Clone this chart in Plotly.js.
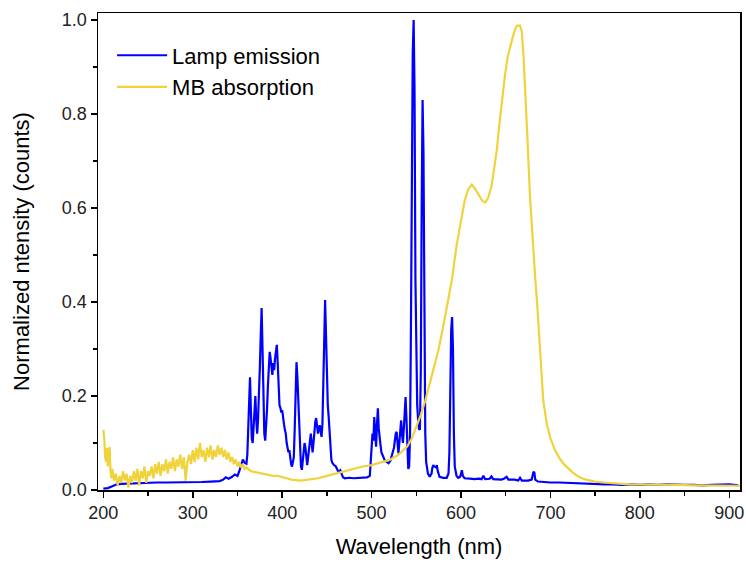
<!DOCTYPE html>
<html>
<head>
<meta charset="utf-8">
<script src="https://cdn.plot.ly/plotly-3.0.1.min.js"></script>
<style>html,body{margin:0;padding:0;background:#fff;}#chart{width:746px;height:562px;}</style>
</head>
<body>
<div id="chart"></div>
<script>
// Lamp emission (wavelength nm, normalized intensity)
const lampWavelength = [200,205,210,215,220,230,240,250,260,270,280,290,300,310,320,330,334,337,340,344,347,350,352,354,356,358,360,
361,362,363,364,365,366,367,368,369,370,371,372,373,374,375,376,377,378,379,380,381,382,383,384,385,386,387,388,389,390,
391,392,393,394,395,396,397,398,399,400,401,402,403,404,405,406,407,408,409,410,411,412,413,414,415,416,417,418,419,420,
421,422,423,424,425,426,427,428,429,430,431,432,433,434,435,436,437,438,439,440,441,442,443,444,445,446,447,448,449,450,
451,452,453,454,455,456,457,458,460,462,463,465,466,468,470,475,480,485,490,495,498,499,500,501,502,503,504,505,506,507,
508,509,510,511,513,515,517,519,521,522,523,525,527,528,529,530,531,532,533,534,535,536,537,538,539,540,541,542,543,544,
545,546,547,548,549,550,551,552,553,554,555,556,557,558,559,560,561,562,563,565,567,568,569,570,572,573,574,576,580,584,
586,587,588,589,590,591,592,593,595,597,599,600,601,602,604,610,615,620,623,625,627,632,634,636,645,648,651,653,660,664,
666,668,675,679,681,682,683,686,690,700,710,720,730,740,750,760,770,780,790,800,810,820,830,840,850,860,870,880,890,900,910];
const lampIntensity = [0.003,0.004,0.008,0.012,0.013,0.014,0.015,0.016,0.016,0.016,0.016,0.017,0.017,0.017,0.018,0.019,0.022,0.027,0.024,0.028,0.033,0.030,0.040,0.055,0.065,0.058,0.056,
0.075,0.14,0.21,0.24,0.17,0.11,0.10,0.14,0.18,0.20,0.15,0.12,0.15,0.19,0.26,0.33,0.387,0.30,0.18,0.12,0.105,0.13,0.17,0.22,0.26,0.294,0.28,0.26,0.245,0.27,
0.255,0.28,0.30,0.309,0.27,0.21,0.18,0.175,0.165,0.17,0.15,0.14,0.128,0.12,0.10,0.085,0.08,0.085,0.065,0.055,0.05,0.06,0.07,0.13,0.22,0.272,0.24,0.19,0.12,0.08,
0.05,0.043,0.06,0.085,0.10,0.09,0.06,0.053,0.07,0.09,0.11,0.12,0.10,0.08,0.10,0.13,0.145,0.153,0.135,0.12,0.13,0.138,0.125,0.113,0.14,0.24,0.36,0.404,0.33,0.22,
0.18,0.155,0.12,0.08,0.064,0.058,0.055,0.053,0.05,0.04,0.038,0.042,0.035,0.027,0.025,0.026,0.025,0.026,0.026,0.027,0.03,0.06,0.11,0.12,0.105,0.155,0.12,0.092,0.14,0.174,
0.13,0.10,0.095,0.08,0.07,0.062,0.06,0.057,0.062,0.07,0.08,0.09,0.12,0.124,0.10,0.078,0.10,0.13,0.148,0.12,0.10,0.13,0.17,0.198,0.15,0.064,0.045,0.05,0.12,0.35,
0.70,0.93,1.0,0.85,0.45,0.25,0.18,0.15,0.13,0.128,0.25,0.60,0.83,0.72,0.35,0.12,0.06,0.045,0.035,0.028,0.035,0.048,0.053,0.05,0.048,0.053,0.04,0.028,0.026,0.026,
0.035,0.08,0.22,0.34,0.368,0.30,0.12,0.05,0.03,0.026,0.028,0.036,0.042,0.03,0.025,0.024,0.023,0.024,0.023,0.03,0.023,0.024,0.029,0.023,0.022,0.024,0.028,0.022,0.022,0.02,
0.026,0.02,0.02,0.022,0.039,0.037,0.022,0.018,0.017,0.016,0.016,0.015,0.015,0.014,0.013,0.012,0.012,0.011,0.012,0.011,0.012,0.011,0.012,0.011,0.011,0.011,0.010,0.011,0.011,0.012,0.010];

// MB absorption (wavelength nm, normalized absorbance)
const mbWavelength = [200,201,202,203,204,205,206,207,208,209,210,212,214,216,218,220,222,224,226,228,230,232,234,236,238,240,242,244,246,248,
250,252,254,256,258,260,262,264,266,268,270,272,274,276,278,280,282,284,286,288,290,292,294,296,298,300,302,304,306,308,
310,312,314,316,318,320,322,324,326,328,330,332,334,336,338,340,342,344,346,348,350,352,354,356,358,360,365,370,375,380,
385,390,395,400,405,410,415,420,425,430,440,450,460,470,480,490,500,510,520,530,540,545,550,555,560,565,570,575,580,585,
590,595,600,604,608,612,616,620,624,627,630,634,637,640,643,646,649,652,655,658,661,663,666,668,670,672,674,677,680,683,
685,688,692,696,700,705,710,715,720,725,730,735,740,745,750,760,770,780,790,800,820,840,860,880,900,912];
const mbAbsorption = [0.128,0.11,0.07,0.06,0.09,0.05,0.075,0.092,0.04,0.025,0.045,0.02,0.035,0.01,0.03,0.015,0.04,0.02,0.035,0.005,0.03,0.015,0.04,0.02,0.045,0.01,0.04,0.025,0.05,0.015,
0.04,0.03,0.05,0.025,0.055,0.035,0.06,0.03,0.055,0.04,0.065,0.035,0.06,0.045,0.07,0.04,0.065,0.05,0.075,0.045,0.07,0.02,0.06,0.075,0.055,0.085,0.06,0.09,0.065,0.1,
0.07,0.085,0.06,0.09,0.07,0.095,0.065,0.085,0.07,0.095,0.075,0.09,0.07,0.085,0.065,0.08,0.06,0.07,0.055,0.065,0.05,0.06,0.048,0.055,0.045,0.048,0.04,0.038,0.035,0.033,
0.032,0.03,0.03,0.028,0.025,0.022,0.021,0.02,0.021,0.022,0.025,0.03,0.035,0.04,0.045,0.05,0.053,0.058,0.064,0.075,0.093,0.11,0.135,0.16,0.19,0.225,0.26,0.30,0.347,0.40,
0.45,0.52,0.57,0.615,0.64,0.65,0.64,0.628,0.615,0.612,0.62,0.645,0.68,0.723,0.78,0.835,0.88,0.92,0.945,0.965,0.983,0.988,0.988,0.975,0.92,0.85,0.76,0.63,0.53,0.45,
0.40,0.30,0.19,0.14,0.11,0.085,0.068,0.055,0.045,0.037,0.03,0.025,0.022,0.02,0.018,0.016,0.014,0.013,0.012,0.012,0.011,0.011,0.01,0.01,0.009,0.009];

const xTickVals = [200,300,400,500,600,700,800,900];
const yTickVals = [0.0,0.2,0.4,0.6,0.8,1.0];
const yTickText = ['0.0','0.2','0.4','0.6','0.8','1.0'];

const FONT = 'Liberation Sans, Arial, sans-serif';

const traces = [
  {x: lampWavelength, y: lampIntensity, type: 'scatter', mode: 'lines', name: 'Lamp emission',
   line: {color: '#0000FF', width: 2.2}},
  {x: mbWavelength, y: mbAbsorption, type: 'scatter', mode: 'lines', name: 'MB absorption',
   line: {color: '#F0D23A', width: 2.2}}
];

const axisCommon = {
  showline: true, linecolor: '#000', linewidth: 1.5, mirror: true,
  ticks: 'outside', ticklen: 6, tickwidth: 1.5, tickcolor: '#000',
  showgrid: false, zeroline: false,
  tickfont: {family: FONT, size: 18, color: '#222'}
};

const layout = {
  width: 746, height: 562,
  margin: {l: 98, r: 6, t: 13, b: 72},
  paper_bgcolor: '#fff', plot_bgcolor: '#fff',
  showlegend: true,
  legend: {x: 0.022, y: 0.955, xanchor: 'left', yanchor: 'top', bgcolor: 'rgba(0,0,0,0)',
           itemwidth: 50, font: {family: FONT, size: 22, color: '#000'}},
  xaxis: Object.assign({}, axisCommon, {
    range: [194, 912], tickvals: xTickVals,
    minor: {tickvals: [250,350,450,550,650,750,850], ticks: 'outside', ticklen: 4, tickwidth: 1.5, tickcolor: '#000'},
    title: {text: 'Wavelength (nm)', standoff: 16, font: {family: FONT, size: 22, color: '#000'}}
  }),
  yaxis: Object.assign({}, axisCommon, {
    range: [0, 1.015], tickvals: yTickVals, ticktext: yTickText,
    minor: {tickvals: [0.1,0.3,0.5,0.7,0.9], ticks: 'outside', ticklen: 4, tickwidth: 1.5, tickcolor: '#000'},
    title: {text: 'Normalized ntensity (counts)', standoff: 26, font: {family: FONT, size: 22, color: '#000'}}
  })
};

Plotly.newPlot('chart', traces, layout, {displayModeBar: false, staticPlot: true});
</script>
</body>
</html>
